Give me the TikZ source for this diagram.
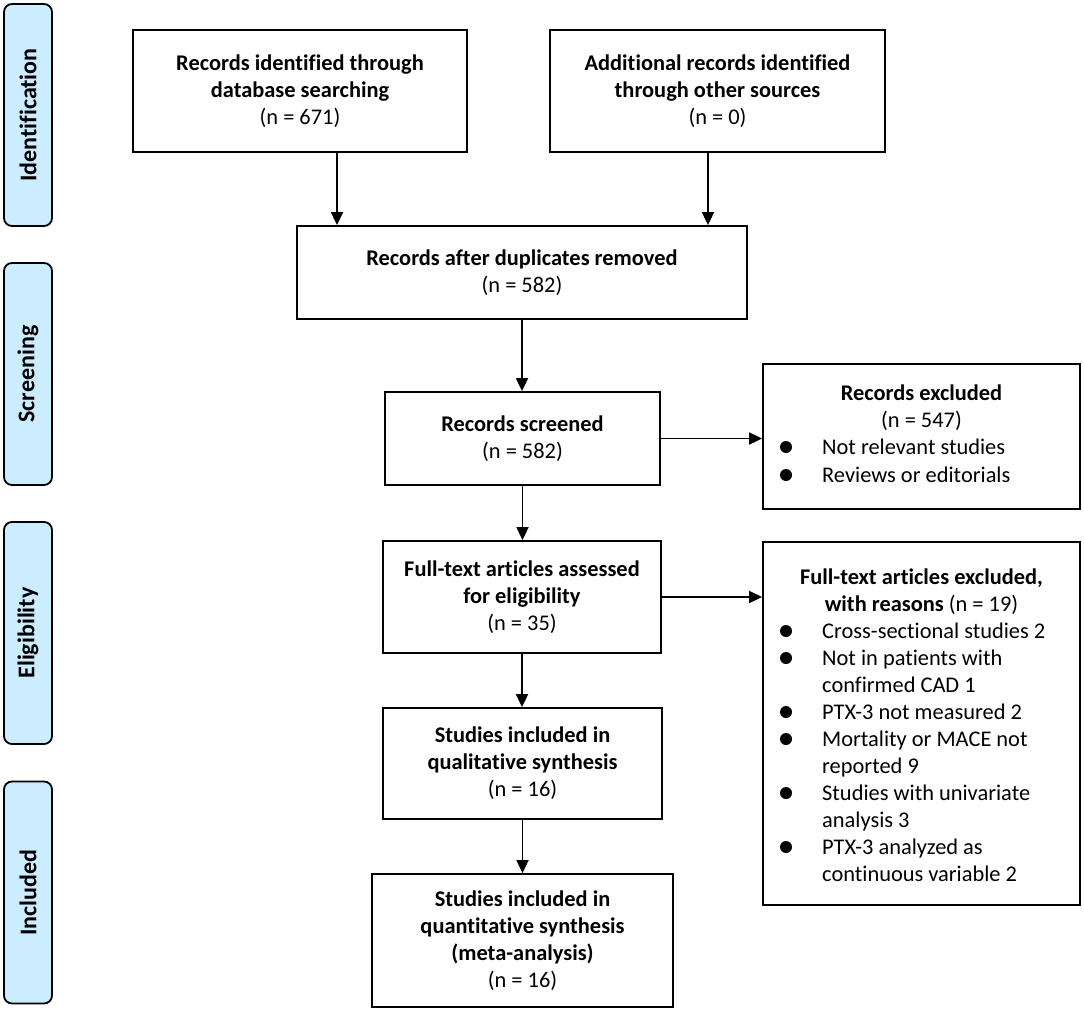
\documentclass[tikz,border=0pt]{standalone}
\usepackage{fontspec}
\setmainfont{Carlito}[Ligatures={NoCommon,NoContextual}]
\usetikzlibrary{arrows.meta}
\definecolor{labelblue}{RGB}{204,236,255}
\begin{document}
\begin{tikzpicture}[x=1pt,y=-1pt,
  box/.style={draw, line width=1.8pt, align=center, inner sep=0pt, font=\fontsize{22.4}{27}\selectfont},
  phase/.style={draw, line width=1.8pt, fill=labelblue, rounded corners=8pt, rotate=90,
                minimum width=222pt, minimum height=48pt, inner sep=0pt,
                font=\fontsize{24}{28}\selectfont\bfseries},
  arr/.style={line width=1.8pt, -{Triangle[length=13pt,width=12pt]}},
  txt/.style={anchor=base west, inner sep=0pt, font=\fontsize{22.4}{27}\selectfont},
  ttl/.style={anchor=base, inner sep=0pt, font=\fontsize{22.4}{27}\selectfont}]
\useasboundingbox (0,0) rectangle (1084,1020);

% phase labels
\node[phase] (p1) at (28,115) {Identification};
\node[phase] (p2) at (28,374) {Screening};
\node[phase] (p3) at (28,633) {Eligibility};
\node[phase] (p4) at (28,892.5) {Included};

% main boxes
\node[box, minimum width=334pt, minimum height=122pt] (A) at (300,91)
  {\textbf{Records identified through}\\\textbf{database searching}\\(n = 671)};
\node[box, minimum width=335pt, minimum height=122pt] (B) at (717.5,91)
  {\textbf{Additional records identified}\\\textbf{through other sources}\\(n = 0)};
\node[box, minimum width=450pt, minimum height=93pt] (C) at (522,272.5)
  {\textbf{Records after duplicates removed}\\(n = 582)};
\node[box, minimum width=275pt, minimum height=93pt] (D) at (522.5,438.5)
  {\textbf{Records screened}\\(n = 582)};
\node[box, minimum width=317pt, minimum height=145pt] (E) at (921.5,436.5) {};
\node[box, minimum width=278pt, minimum height=112pt] (F) at (522,597)
  {\textbf{Full-text articles assessed}\\\textbf{for eligibility}\\(n = 35)};
\node[box, minimum width=317pt, minimum height=363pt] (G) at (921.5,723.5) {};
\node[box, minimum width=279pt, minimum height=111pt] (H) at (522.5,763.5)
  {\textbf{Studies included in}\\\textbf{qualitative synthesis}\\(n = 16)};
\node[box, minimum width=301pt, minimum height=133pt] (I) at (522.5,940.5)
  {\textbf{Studies included in}\\\textbf{quantitative synthesis}\\\textbf{(meta-analysis)}\\(n = 16)};

% contents of Records excluded
\node[ttl] (e1) at (921.5,400) {\textbf{Records excluded}};
\node[ttl] (e2) at (921.5,427) {(n = 547)};
\fill (786,447) circle[radius=6pt];
\node[txt] (e3) at (822,454) {Not relevant studies};
\fill (786,475) circle[radius=6pt];
\node[txt] (e4) at (822,482) {Reviews or editorials};

% contents of Full-text articles excluded
\node[ttl] (g1) at (921.5,584) {\textbf{Full-text articles excluded,}};
\node[ttl] (g2) at (921.5,611) {\textbf{with reasons} (n = 19)};
\fill (786,631) circle[radius=6pt];
\node[txt] (g3) at (822,638) {Cross-sectional studies 2};
\fill (786,658) circle[radius=6pt];
\node[txt] (g4) at (822,665) {Not in patients with};
\node[txt] (g5) at (822,692) {confirmed CAD 1};
\fill (786,712) circle[radius=6pt];
\node[txt] (g6) at (822,719) {PTX-3 not measured 2};
\fill (786,739) circle[radius=6pt];
\node[txt] (g7) at (822,746) {Mortality or MACE not};
\node[txt] (g8) at (822,773) {reported 9};
\fill (786,793) circle[radius=6pt];
\node[txt] (g9) at (822,800) {Studies with univariate};
\node[txt] (g10) at (822,827) {analysis 3};
\fill (786,847) circle[radius=6pt];
\node[txt] (g11) at (822,854) {PTX-3 analyzed as};
\node[txt] (g12) at (822,881) {continuous variable 2};

% connectors
\draw[arr] ([xshift=37pt]A.south) -- ([xshift=37pt]A.south |- C.north);
\draw[arr] ([xshift=-9.5pt]B.south) -- ([xshift=-9.5pt]B.south |- C.north);
\draw[arr] (C.south) -- (C.south |- D.north);
\draw[arr] (D.east) -- (D.east -| E.west);
\draw[arr] (D.south) -- (D.south |- F.north);
\draw[arr] (F.east) -- (F.east -| G.west);
\draw[arr] (F.south) -- (F.south |- H.north);
\draw[arr] (H.south) -- (H.south |- I.north);
\end{tikzpicture}
\end{document}
